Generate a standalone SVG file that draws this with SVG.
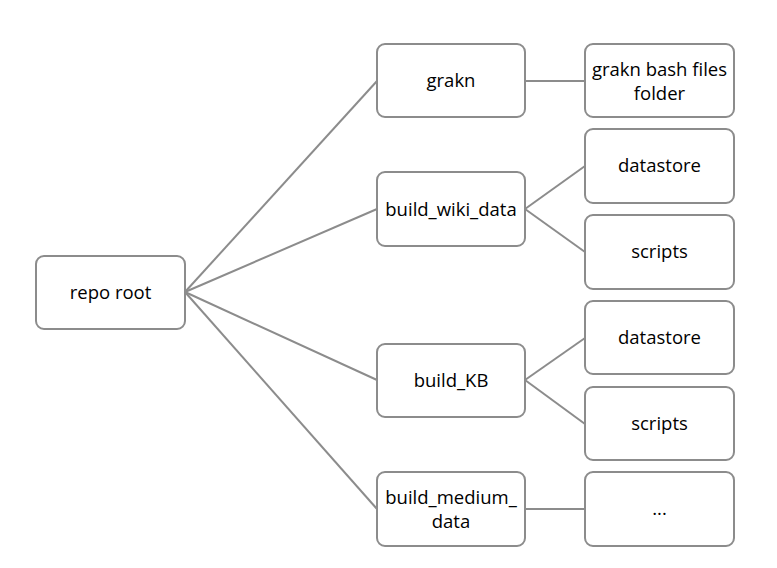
<svg xmlns="http://www.w3.org/2000/svg" width="777" height="568" viewBox="0 0 777 568">
<style>
rect.n{fill:#fff;stroke:#8c8c8c;stroke-width:2}
text{font-family:"Open Sans","Liberation Sans",sans-serif;font-size:18.5px;fill:#000;text-anchor:middle;dominant-baseline:central}
#connectors line{stroke:#8c8c8c;stroke-width:2}
</style>
<rect width="777" height="568" fill="#fff"/>
<g id="connectors">
<line x1="185" y1="292" x2="377" y2="81"/>
<line x1="185" y1="292" x2="377" y2="209"/>
<line x1="185" y1="292" x2="377" y2="380"/>
<line x1="185" y1="292" x2="377" y2="509"/>
<line x1="525" y1="81" x2="585" y2="81"/>
<line x1="525" y1="209" x2="585" y2="166"/>
<line x1="525" y1="209" x2="585" y2="252"/>
<line x1="525" y1="380" x2="585" y2="338"/>
<line x1="525" y1="380" x2="585" y2="424"/>
<line x1="525" y1="509" x2="585" y2="509"/>
</g>
<g id="repo_root"><rect class="n" x="36" y="256" width="149" height="73" rx="8"/><text x="110.5" y="291">repo root</text></g>
<g id="grakn"><rect class="n" x="377" y="44" width="148" height="73" rx="8"/><text x="451" y="79">grakn</text></g>
<g id="grakn_bash"><rect class="n" x="585" y="44" width="149" height="73" rx="8"/><text x="659.5" y="68">grakn bash files</text><text x="659.5" y="92">folder</text></g>
<g id="build_wiki_data"><rect class="n" x="377" y="172" width="148" height="74" rx="8"/><text x="451" y="208">build_wiki_data</text></g>
<g id="datastore1"><rect class="n" x="585" y="129" width="149" height="74" rx="8"/><text x="659.5" y="164">datastore</text></g>
<g id="scripts1"><rect class="n" x="585" y="215" width="149" height="74" rx="8"/><text x="659.5" y="250">scripts</text></g>
<g id="build_KB"><rect class="n" x="377" y="344" width="148" height="73" rx="8"/><text x="451" y="379">build_KB</text></g>
<g id="datastore2"><rect class="n" x="585" y="301" width="149" height="73" rx="8"/><text x="659.5" y="336">datastore</text></g>
<g id="scripts2"><rect class="n" x="585" y="387" width="149" height="73" rx="8"/><text x="659.5" y="422">scripts</text></g>
<g id="build_medium_data"><rect class="n" x="377" y="472" width="148" height="74" rx="8"/><text x="451" y="496">build_medium_</text><text x="451" y="520">data</text></g>
<g id="ellipsis"><rect class="n" x="585" y="472" width="149" height="74" rx="8"/><text x="659.5" y="507">...</text></g>
</svg>
